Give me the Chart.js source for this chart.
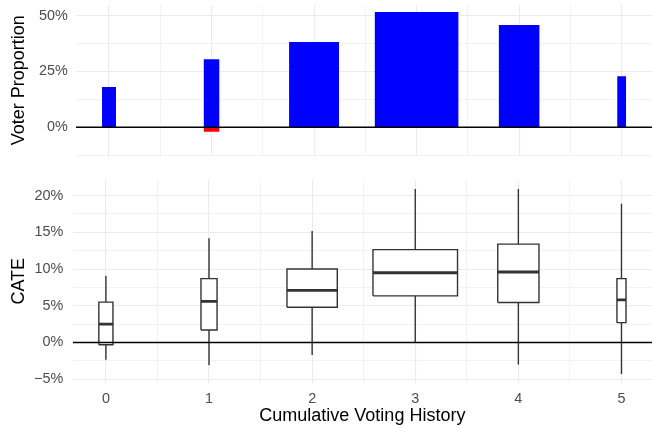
<!DOCTYPE html>
<html><head><meta charset="utf-8">
<script src="https://cdn.jsdelivr.net/npm/chart.js@4.4.1/dist/chart.umd.min.js"></script>
<style>
html,body{margin:0;padding:0;background:#fff;}
#wrap{position:relative;width:652px;height:428px;background:#fff;}
#top{position:absolute;left:0;top:0;width:652px;height:165px;}
#bot{position:absolute;left:0;top:165px;width:652px;height:263px;}
</style></head><body>
<div id="wrap"><div id="top"><canvas id="c1" width="652" height="165"></canvas></div><div id="bot"><canvas id="c2" width="652" height="263"></canvas></div></div>
<script>
// ---- data ----
const categories = [0, 1, 2, 3, 4, 5];
const xTickLabels = ['0', '1', '2', '3', '4', '5'];
const groupWidths = [0.137, 0.156, 0.488, 0.82, 0.40, 0.088];
const propPositive = [18.0, 30.5, 38.2, 51.7, 45.8, 22.9];
const propNegative = [0, -2.1, 0, 0, 0, 0];
const cateLow = [-2.35, -3.1, -1.7, -0.05, -3.0, -4.3];
const cateQ1 = [-0.3, 1.7, 4.8, 6.35, 5.45, 2.7];
const cateMedian = [2.5, 5.6, 7.1, 9.5, 9.6, 5.8];
const cateQ3 = [5.5, 8.7, 10.0, 12.65, 13.4, 8.7];
const cateHigh = [9.1, 14.2, 15.2, 20.9, 20.9, 18.9];
const topTickValues = [0, 25, 50];
const topTickLabels = ['0%', '25%', '50%'];
const topGridValues = [-12.5, 0, 12.5, 25, 37.5, 50];
const botTickValues = [-5, 0, 5, 10, 15, 20];
const botTickLabels = ['\u22125%', '0%', '5%', '10%', '15%', '20%'];
const botGridValues = [-5, -2.5, 0, 2.5, 5, 7.5, 10, 12.5, 15, 17.5, 20];
const xGridValues = [0, 0.5, 1, 1.5, 2, 2.5, 3, 3.5, 4, 4.5, 5];

const X_MIN = -0.322, X_MAX = 5.296;
const FONT = 'Liberation Sans, Arial, sans-serif';
const GRID = '#EBEBEB';

function gridWidth(ctx, majorVals) {
  const v = ctx.tick ? ctx.tick.value : 0;
  return majorVals.includes(v) ? 1.1 : 0.6;
}

function xScale(showLabels, heightFit) {
  return {
    type: 'linear', min: X_MIN, max: X_MAX,
    afterBuildTicks: s => { s.ticks = xGridValues.map(v => ({value: v})); },
    afterFit: s => { s.height = heightFit; s.paddingLeft = 0; s.paddingRight = 0; },
    border: {display: false},
    grid: {color: GRID, lineWidth: c => gridWidth(c, categories), drawTicks: false},
    ticks: {
      display: showLabels, autoSkip: false, maxRotation: 0, padding: 7.5,
      color: '#4D4D4D', font: {family: FONT, size: 14.4},
      callback: v => { const i = categories.indexOf(v); return i >= 0 ? xTickLabels[i] : ''; }
    },
    title: showLabels ? {display: true, text: 'Cumulative Voting History', color: '#000',
      font: {family: FONT, size: 18}, padding: {top: 0, bottom: 1.5}} : {display: false}
  };
}

function yScale(min, max, gridVals, tickVals, tickLabels, title, width, pad) {
  return {
    type: 'linear', min: min, max: max,
    afterBuildTicks: s => { s.ticks = gridVals.map(v => ({value: v})); },
    afterFit: s => { s.width = width; s.paddingTop = 0; s.paddingBottom = 0; },
    border: {display: false},
    grid: {color: GRID, lineWidth: c => gridWidth(c, tickVals), drawTicks: false},
    ticks: {
      autoSkip: false, padding: pad, color: '#4D4D4D', font: {family: FONT, size: 14.4},
      callback: v => { const i = tickVals.indexOf(v); return i >= 0 ? tickLabels[i] : ''; }
    },
    title: {display: true, text: title, color: '#000', font: {family: FONT, size: 18},
      padding: {top: 8.5, bottom: 0}}
  };
}

const baseOptions = {
  responsive: false, animation: false,
  plugins: {legend: {display: false}, tooltip: {enabled: false}},
  elements: {point: {radius: 0, hoverRadius: 0}, line: {tension: 0}}
};

// ---- top chart: voter proportion bars ----
const topDatasets = [{
  data: [{x: X_MIN, y: 0}, {x: X_MAX, y: 0}], showLine: true,
  borderColor: '#000000', borderWidth: 1.5, order: 0
}];
categories.forEach((c, i) => {
  const w = groupWidths[i] / 2;
  topDatasets.push({
    data: [{x: c - w, y: propPositive[i]}, {x: c + w, y: propPositive[i]}], showLine: true,
    borderColor: 'rgba(0,0,0,0)', borderWidth: 0, backgroundColor: '#0000FF', fill: 'origin', order: 5
  });
  if (propNegative[i] !== 0) {
    topDatasets.push({
      data: [{x: c - w, y: propNegative[i]}, {x: c + w, y: propNegative[i]}], showLine: true,
      borderColor: 'rgba(0,0,0,0)', borderWidth: 0, backgroundColor: '#FF0000', fill: 'origin', order: 5
    });
  }
});

new Chart(document.getElementById('c1'), {
  type: 'scatter',
  data: {datasets: topDatasets},
  options: Object.assign({}, baseOptions, {
    layout: {padding: {top: 5, left: 0, right: 0, bottom: 0}},
    scales: {
      x: xScale(false, 9.5),
      y: yScale(-12.7, 54.8, topGridValues, topTickValues, topTickLabels, 'Voter Proportion', 76, 8.3)
    }
  })
});

// ---- bottom chart: CATE boxplots ----
const botDatasets = [{
  data: [{x: X_MIN, y: 0}, {x: X_MAX, y: 0}], showLine: true,
  borderColor: '#000000', borderWidth: 1.3, order: 0
}];
const outline = [], medians = [], whiskers = [];
categories.forEach((c, i) => {
  const w = groupWidths[i] / 2;
  outline.push({x: c - w, y: cateQ1[i]}, {x: c + w, y: cateQ1[i]}, {x: c + w, y: cateQ3[i]},
    {x: c - w, y: cateQ3[i]}, {x: c - w, y: cateQ1[i]}, {x: c, y: null});
  medians.push({x: c - w, y: cateMedian[i]}, {x: c + w, y: cateMedian[i]}, {x: c, y: null});
  whiskers.push({x: c, y: cateQ3[i]}, {x: c, y: cateHigh[i]}, {x: c, y: null},
    {x: c, y: cateQ1[i]}, {x: c, y: cateLow[i]}, {x: c, y: null});
});
botDatasets.push({data: medians, showLine: true, spanGaps: false, borderColor: '#333333',
  borderWidth: 2.8, borderCapStyle: 'butt', order: 1});
botDatasets.push({data: outline, showLine: true, spanGaps: false, borderColor: '#333333',
  borderWidth: 1.4, borderJoinStyle: 'miter', order: 2});
botDatasets.push({data: whiskers, showLine: true, spanGaps: false, borderColor: '#333333',
  borderWidth: 1.4, borderCapStyle: 'butt', order: 3});
categories.forEach((c, i) => {
  const w = groupWidths[i] / 2;
  const idxTop = botDatasets.length;
  botDatasets.push({
    data: [{x: c - w, y: cateQ3[i]}, {x: c + w, y: cateQ3[i]}], showLine: true,
    borderColor: 'rgba(0,0,0,0)', borderWidth: 0, backgroundColor: '#FFFFFF',
    fill: {target: idxTop + 1}, order: 10
  });
  botDatasets.push({
    data: [{x: c - w, y: cateQ1[i]}, {x: c + w, y: cateQ1[i]}], showLine: true,
    borderColor: 'rgba(0,0,0,0)', borderWidth: 0, fill: false, order: 10
  });
});

new Chart(document.getElementById('c2'), {
  type: 'scatter',
  data: {datasets: botDatasets},
  options: Object.assign({}, baseOptions, {
    layout: {padding: {top: 15, left: 0, right: 0, bottom: 0}},
    scales: {
      x: xScale(true, 45.5),
      y: yScale(-5.45, 22.13, botGridValues, botTickValues, botTickLabels, 'CATE', 72.7, 9.4)
    }
  })
});
</script>
</body></html>
